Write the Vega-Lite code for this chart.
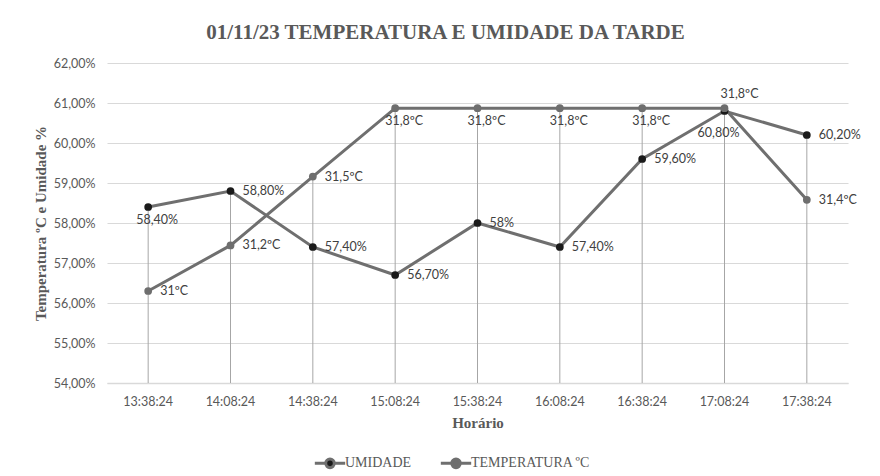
{
  "$schema": "https://vega.github.io/schema/vega-lite/v6.json",
  "autosize": {"type": "none"},
  "width": 741,
  "height": 320,
  "padding": {"left": 107, "top": 63, "right": 32, "bottom": 93},
  "background": "#ffffff",
  "title": {
    "text": "01/11/23 TEMPERATURA E UMIDADE DA TARDE",
    "font": "Liberation Serif",
    "fontSize": 21,
    "fontWeight": "bold",
    "color": "#595959",
    "anchor": "middle",
    "dx": -32,
    "offset": 14
  },
  "config": {
    "view": {"stroke": null},
    "axis": {
      "labelFont": "Lato",
      "labelFontSize": 12.5,
      "labelColor": "#595959",
      "titleFont": "Liberation Serif",
      "titleFontSize": 15,
      "titleFontWeight": "bold",
      "titleColor": "#595959"
    }
  },
  "data": {
    "values": [
      {"hora": "13:38:24", "serie": "UMIDADE", "valor": 58.4, "rotulo": "58,40%", "pos": "below"},
      {"hora": "14:08:24", "serie": "UMIDADE", "valor": 58.8, "rotulo": "58,80%", "pos": "right"},
      {"hora": "14:38:24", "serie": "UMIDADE", "valor": 57.4, "rotulo": "57,40%", "pos": "right"},
      {"hora": "15:08:24", "serie": "UMIDADE", "valor": 56.7, "rotulo": "56,70%", "pos": "right"},
      {"hora": "15:38:24", "serie": "UMIDADE", "valor": 58.0, "rotulo": "58%", "pos": "right"},
      {"hora": "16:08:24", "serie": "UMIDADE", "valor": 57.4, "rotulo": "57,40%", "pos": "right"},
      {"hora": "16:38:24", "serie": "UMIDADE", "valor": 59.6, "rotulo": "59,60%", "pos": "right"},
      {"hora": "17:08:24", "serie": "UMIDADE", "valor": 60.8, "rotulo": "60,80%", "pos": "belowleft"},
      {"hora": "17:38:24", "serie": "UMIDADE", "valor": 60.2, "rotulo": "60,20%", "pos": "right"},
      {"hora": "13:38:24", "serie": "TEMPERATURA ºC", "valor": 56.3, "rotulo": "31ºC", "pos": "right"},
      {"hora": "14:08:24", "serie": "TEMPERATURA ºC", "valor": 57.44, "rotulo": "31,2ºC", "pos": "right"},
      {"hora": "14:38:24", "serie": "TEMPERATURA ºC", "valor": 59.16, "rotulo": "31,5ºC", "pos": "right"},
      {"hora": "15:08:24", "serie": "TEMPERATURA ºC", "valor": 60.87, "rotulo": "31,8ºC", "pos": "below"},
      {"hora": "15:38:24", "serie": "TEMPERATURA ºC", "valor": 60.87, "rotulo": "31,8ºC", "pos": "below"},
      {"hora": "16:08:24", "serie": "TEMPERATURA ºC", "valor": 60.87, "rotulo": "31,8ºC", "pos": "below"},
      {"hora": "16:38:24", "serie": "TEMPERATURA ºC", "valor": 60.87, "rotulo": "31,8ºC", "pos": "below"},
      {"hora": "17:08:24", "serie": "TEMPERATURA ºC", "valor": 60.87, "rotulo": "31,8ºC", "pos": "above"},
      {"hora": "17:38:24", "serie": "TEMPERATURA ºC", "valor": 58.58, "rotulo": "31,4ºC", "pos": "right"}
    ]
  },
  "encoding": {
    "x": {
      "field": "hora",
      "type": "nominal",
      "scale": {"paddingInner": 0, "paddingOuter": 0},
      "axis": {
        "title": "Horário",
        "labelAngle": 0,
        "ticks": false,
        "domainColor": "#d9d9d9",
        "domainWidth": 1.5,
        "labelPadding": 12,
        "titlePadding": 8
      }
    },
    "y": {
      "field": "valor",
      "type": "quantitative",
      "scale": {"domain": [54, 62], "nice": false, "zero": false},
      "axis": {
        "title": "Temperatura ºC e Umidade %",
        "values": [54, 55, 56, 57, 58, 59, 60, 61, 62],
        "labelOverlap": false,
        "labelExpr": "replace(format(datum.value, '.2f'), '.', ',') + '%'",
        "domain": false,
        "ticks": false,
        "grid": true,
        "gridColor": "#d9d9d9",
        "gridWidth": 1,
        "labelPadding": 12,
        "titlePadding": 5
      }
    }
  },
  "layer": [
    {
      "mark": {"type": "rule", "color": "#a6a6a6", "strokeWidth": 1},
      "encoding": {
        "y": {"aggregate": "max", "field": "valor", "type": "quantitative"},
        "y2": {"datum": 54}
      }
    },
    {
      "mark": {"type": "line", "strokeWidth": 3, "color": "#6f6f6f"},
      "encoding": {
        "detail": {"field": "serie"},
        "order": {"field": "hora"}
      }
    },
    {
      "mark": {"type": "point", "filled": true, "size": 60, "opacity": 1},
      "encoding": {
        "color": {
          "field": "serie",
          "type": "nominal",
          "scale": {"domain": ["UMIDADE", "TEMPERATURA ºC"], "range": ["#1a1a1a", "#6e6e6e"]},
          "legend": {
            "title": null,
            "orient": "none",
            "legendX": 212,
            "legendY": 389,
            "direction": "horizontal",
            "labelFont": "Liberation Serif",
            "labelFontSize": 14,
            "labelColor": "#595959",
            "symbolType": "M-1.6,0H-0.45M0.45,0H1.6M-0.45,0a0.45,0.45 0 1,0 0.9,0a0.45,0.45 0 1,0 -0.9,0",
            "symbolSize": 360,
            "symbolStrokeColor": "#6f6f6f",
            "symbolStrokeWidth": 3,
            "symbolOpacity": 1,
            "labelOffset": 4,
            "columnPadding": 22
          }
        }
      }
    },
    {
      "transform": [{"filter": "datum.pos == 'right'"}],
      "mark": {"type": "text", "align": "left", "baseline": "middle", "dx": 12, "font": "Lato", "fontSize": 12.5, "color": "#404040"},
      "encoding": {"text": {"field": "rotulo"}}
    },
    {
      "transform": [{"filter": "datum.pos == 'below'"}],
      "mark": {"type": "text", "align": "center", "baseline": "middle", "dx": 9, "dy": 13, "font": "Lato", "fontSize": 12.5, "color": "#404040"},
      "encoding": {"text": {"field": "rotulo"}}
    },
    {
      "transform": [{"filter": "datum.pos == 'belowleft'"}],
      "mark": {"type": "text", "align": "center", "baseline": "middle", "dx": -6, "dy": 22, "font": "Lato", "fontSize": 12.5, "color": "#404040"},
      "encoding": {"text": {"field": "rotulo"}}
    },
    {
      "transform": [{"filter": "datum.pos == 'above'"}],
      "mark": {"type": "text", "align": "center", "baseline": "middle", "dx": 15, "dy": -14, "font": "Lato", "fontSize": 12.5, "color": "#404040"},
      "encoding": {"text": {"field": "rotulo"}}
    }
  ]
}
